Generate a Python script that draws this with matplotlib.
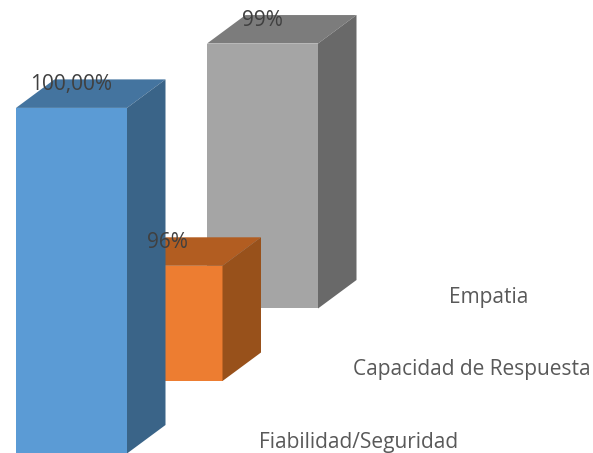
import matplotlib
matplotlib.use("Agg")
import matplotlib.pyplot as plt
from matplotlib.patches import Polygon

categories = ["Fiabilidad/Seguridad", "Capacidad de Respuesta", "Empatia"]
values = [100.0, 96.0, 98.6]
value_labels = ["100,00%", "96%", "99%"]
front_colors = ["#5B9BD5", "#ED7D31", "#A5A5A5"]
top_colors = ["#44749F", "#B25D21", "#7C7C7C"]
side_colors = ["#3A6488", "#98511B", "#696969"]

# axis floor of the value scale and pixels per percentage point
AXIS_MIN = 94.0
PX_PER_UNIT = 57.6
BAR_WIDTH = 111
FIRST_LEFT = 16
# shift between rows of the 3D floor
STEP_X = 95.5
STEP_Y = 72.5 / PX_PER_UNIT
# depth of every column
DEPTH_X = 38.5
DEPTH_Y = 28.5 / PX_PER_UNIT
TEXT_COLOR = "#404040"
CAT_COLOR = "#595959"

plt.rcParams["font.family"] = ["Open Sans", "DejaVu Sans"]

fig = plt.figure(figsize=(5.93, 4.53), dpi=100)
ax = fig.add_axes([0, 0, 1, 1])
ax.set_xlim(0, 593)
ax.set_ylim(AXIS_MIN + 0.5 / PX_PER_UNIT, AXIS_MIN + 453.5 / PX_PER_UNIT)
ax.axis("off")

# back row first so the nearer columns cover it
for i in reversed(range(len(values))):
    left = FIRST_LEFT + i * STEP_X
    right = left + BAR_WIDTH
    base = AXIS_MIN + i * STEP_Y
    top = base + values[i] - AXIS_MIN
    z = 10 + (len(values) - i) * 2

    ax.bar(left, top - base, width=BAR_WIDTH, bottom=base, align="edge",
           color=front_colors[i], zorder=z)
    ax.add_patch(Polygon([(left, top), (right, top),
                          (right + DEPTH_X, top + DEPTH_Y), (left + DEPTH_X, top + DEPTH_Y)],
                         closed=True, facecolor=top_colors[i], edgecolor="none", zorder=z))
    ax.add_patch(Polygon([(right, base), (right, top),
                          (right + DEPTH_X, top + DEPTH_Y), (right + DEPTH_X, base + DEPTH_Y)],
                         closed=True, facecolor=side_colors[i], edgecolor="none", zorder=z))

    ax.annotate(value_labels[i], (left + BAR_WIDTH / 2, top), xytext=(0, 23),
                textcoords="offset pixels", ha="center", va="center",
                fontsize=15, color=TEXT_COLOR, zorder=30)

# category names sit on the depth axis, one per row
cat_x = [358.5, 472, 489]
for i, name in enumerate(categories):
    ax.text(cat_x[i], AXIS_MIN + (11 + i * 72.5) / PX_PER_UNIT, name,
            ha="center", va="center", fontsize=15, color=CAT_COLOR, zorder=30)

fig.savefig("out.png", dpi=100)
